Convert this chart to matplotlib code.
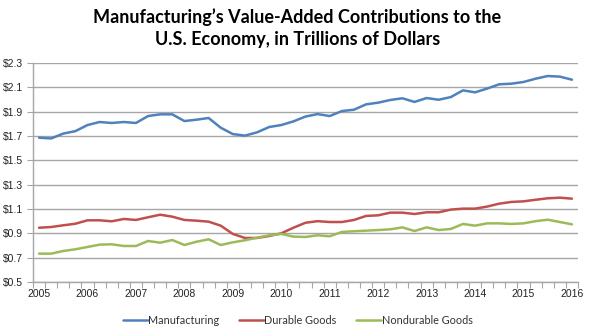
import matplotlib
matplotlib.use("Agg")
import matplotlib.pyplot as plt
import numpy as np

years = ["2005", "2006", "2007", "2008", "2009", "2010", "2011", "2012", "2013", "2014", "2015", "2016"]

manufacturing = [1.686, 1.68, 1.72, 1.74, 1.79, 1.815, 1.807, 1.815, 1.807, 1.864, 1.878, 1.878,
                 1.823, 1.834, 1.848, 1.768, 1.716, 1.703, 1.73, 1.774, 1.79, 1.82, 1.86, 1.88,
                 1.864, 1.905, 1.916, 1.96, 1.974, 1.996, 2.01, 1.98, 2.012, 1.998, 2.02, 2.075,
                 2.059, 2.09, 2.125, 2.13, 2.144, 2.171, 2.193, 2.188, 2.163]
durable = [0.946, 0.952, 0.966, 0.979, 1.007, 1.007, 0.999, 1.018, 1.01, 1.032, 1.053, 1.037,
           1.01, 1.004, 0.996, 0.963, 0.895, 0.862, 0.862, 0.878, 0.9, 0.946, 0.987, 1.0,
           0.993, 0.993, 1.01, 1.043, 1.048, 1.07, 1.07, 1.059, 1.073, 1.073, 1.095, 1.103,
           1.103, 1.12, 1.144, 1.158, 1.163, 1.176, 1.188, 1.193, 1.185]
nondurable = [0.733, 0.733, 0.755, 0.769, 0.788, 0.807, 0.81, 0.796, 0.796, 0.837, 0.823, 0.845,
              0.804, 0.831, 0.851, 0.804, 0.826, 0.843, 0.864, 0.884, 0.895, 0.873, 0.87, 0.884,
              0.876, 0.911, 0.917, 0.922, 0.927, 0.933, 0.949, 0.919, 0.949, 0.927, 0.936, 0.977,
              0.963, 0.982, 0.982, 0.977, 0.982, 1.0, 1.012, 0.993, 0.974]
series_names = ["Manufacturing", "Durable Goods", "Nondurable Goods"]
y_ticks = [0.5, 0.7, 0.9, 1.1, 1.3, 1.5, 1.7, 1.9, 2.1, 2.3]

colors = ["#4F81BD", "#C0504D", "#9BBB59"]
grid_c = "#A6A6A6"

fig = plt.figure(figsize=(5.95, 3.35), dpi=100)
ax = fig.add_axes([33 / 595, 1 - 282 / 335, 545 / 595, 219 / 335])

x = np.arange(len(manufacturing))
for vals, c, name in zip([manufacturing, durable, nondurable], colors, series_names):
    ax.plot(x, vals, color=c, lw=1.8, label=name, solid_capstyle="round", solid_joinstyle="round")

ax.set_xlim(-0.5, len(manufacturing) - 0.5)
ax.set_ylim(0.5, 2.3)
ax.set_yticks(y_ticks)
ax.set_yticklabels([f"${v:.1f}" for v in y_ticks], fontsize=7.5, family="Liberation Sans", color="#222222")
ax.yaxis.grid(True, color=grid_c, lw=1.0)
ax.set_axisbelow(True)

# category ticks between quarters, labels every year
ax.set_xticks(np.arange(-0.5, len(manufacturing), 1.0))
ax.set_xticklabels([])
ax.set_xticks(np.arange(0, len(manufacturing), 4), minor=True)
ax.set_xticklabels(years, minor=True, fontsize=7.5, family="Liberation Sans", color="#222222")
ax.tick_params(axis="x", which="major", length=4, color=grid_c, direction="out")
ax.tick_params(axis="x", which="minor", length=0, pad=5)
ax.tick_params(axis="y", length=4, color=grid_c, pad=3)

for s in ["top", "right"]:
    ax.spines[s].set_visible(False)
for s in ["left", "bottom"]:
    ax.spines[s].set_color(grid_c)
    ax.spines[s].set_linewidth(1.0)

fig.text(0.5, 1 - 28 / 335, "Manufacturing\u2019s Value-Added Contributions to the\nU.S. Economy, in Trillions of Dollars",
         ha="center", va="center", fontsize=13, fontweight="bold", family="Lato", linespacing=1.3)

leg = fig.legend(loc="center", bbox_to_anchor=(0.5, 1 - 320 / 335), ncol=3, frameon=False,
                 handlelength=2.3, handletextpad=0.05, columnspacing=1.8,
                 prop={"family": "Lato", "size": 7.8})
for t in leg.get_texts():
    t.set_color("#333333")

fig.savefig("out.png", dpi=100, facecolor="white")
